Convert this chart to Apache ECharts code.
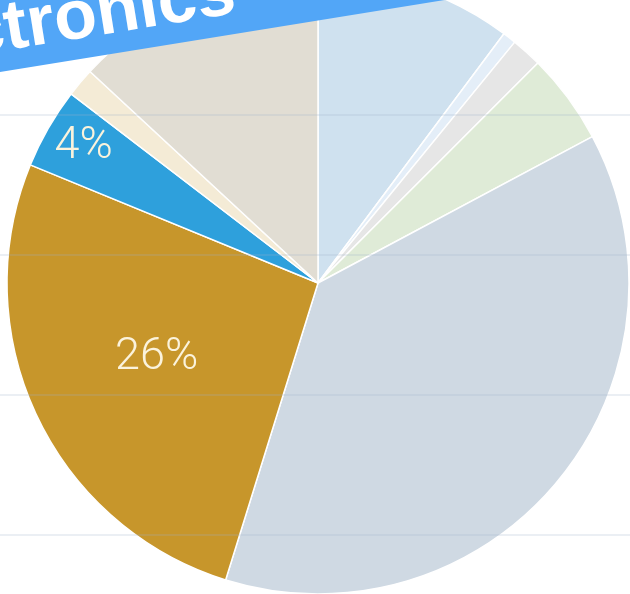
<!DOCTYPE html>
<html>
<head>
<meta charset="utf-8">
<script src="https://cdn.jsdelivr.net/npm/echarts@6/dist/echarts.min.js"></script>
<style>
  html, body { margin: 0; padding: 0; background: #ffffff; }
  #chart { width: 630px; height: 594px; }
</style>
</head>
<body>
<div id="chart"></div>
<script>
// Share of each segment, in percent, clockwise from 12 o'clock
const segments = ['Segment A', 'Segment B', 'Segment C', 'Segment D', 'Segment E',
                  'Segment F', 'Segment G', 'Segment H', 'Segment I'];
const shares = [10.2, 0.7, 1.6, 4.7, 37.6, 26.4, 4.2, 1.5, 13.1];
const sliceColors = ['#cfe1ef', '#e4eef8', '#e6e6e6', '#dfebd7', '#cfd9e3',
                     '#c7962b', '#2ea0dc', '#f4ebd6', '#e1ddd3'];
// Only these slices carry a percentage label
const labelled = ['Segment F', 'Segment G'];
// Background guide rows
const guideRows = [0, 1, 2, 3];
const titleText = 'Electronics';

const chart = echarts.init(document.getElementById('chart'), null, { renderer: 'canvas' });

const data = segments.map((name, i) => ({
  name: name,
  value: shares[i],
  itemStyle: { color: sliceColors[i] },
  label: { show: labelled.includes(name) }
}));

// Nudge the two labels outward along their slices
const labelNudge = {
  'Segment F': { dx: -18, dy: 7 },
  'Segment G': { dx: -97, dy: -57 }
};

chart.setOption({
  animation: false,
  backgroundColor: '#ffffff',
  grid: { left: 0, right: 0, top: 115, bottom: 59 },
  xAxis: { type: 'value', show: false, min: 0, max: 1 },
  yAxis: {
    type: 'value',
    min: guideRows[0],
    max: guideRows[guideRows.length - 1],
    interval: 1,
    z: 10,
    axisLine: { show: false },
    axisTick: { show: false },
    axisLabel: { show: false },
    splitLine: { show: true, lineStyle: { color: 'rgba(160,178,200,0.28)', width: 1.5 } }
  },
  series: [{
    type: 'pie',
    center: [318, 283],
    radius: 311,
    startAngle: 90,
    clockwise: true,
    percentPrecision: 0,
    z: 2,
    itemStyle: { borderColor: '#ffffff', borderWidth: 1.5 },
    label: {
      position: 'inside',
      formatter: '{d}%',
      color: '#fbf3dc',
      fontFamily: 'Roboto',
      fontWeight: 300,
      fontSize: 45
    },
    labelLine: { show: false },
    labelLayout: function (p) {
      const n = labelNudge[segments[p.dataIndex]];
      return n ? { dx: n.dx, dy: n.dy } : {};
    },
    emphasis: { disabled: true },
    data: data
  }],
  // Tilted title banner across the top-left corner
  graphic: [{
    type: 'group',
    x: 0,
    y: 72,
    rotation: 9.2 * Math.PI / 180,
    zlevel: 5,
    z: 100,
    children: [
      {
        type: 'rect',
        zlevel: 5,
        z: 100,
        shape: { x: -200, y: -160, width: 900, height: 160 },
        style: { fill: '#52a6f7' }
      },
      {
        type: 'text',
        zlevel: 5,
        z: 101,
        x: -133,
        y: -5,
        style: {
          text: titleText,
          fill: '#ffffff',
          font: 'bold 70px "Liberation Sans", Arial, sans-serif',
          verticalAlign: 'bottom'
        }
      }
    ]
  }]
});
</script>
</body>
</html>
